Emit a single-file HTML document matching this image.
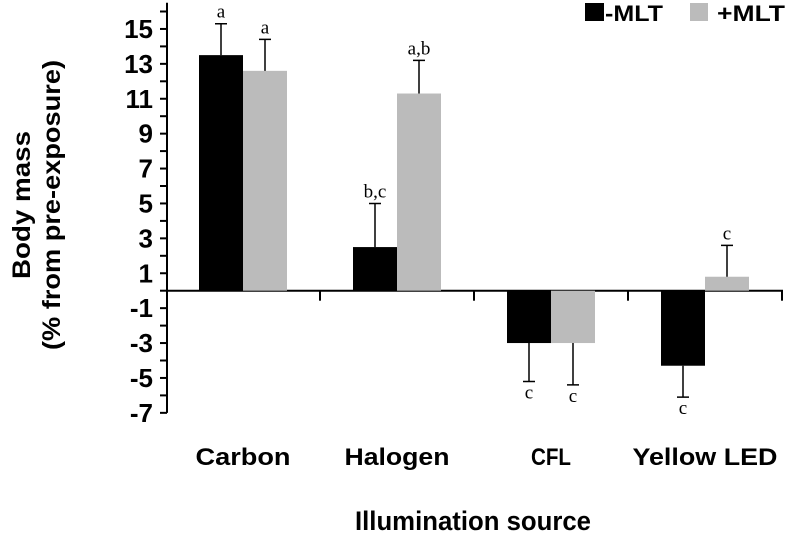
<!DOCTYPE html>
<html><head><meta charset="utf-8"><style>
html,body{margin:0;padding:0;background:#fff;}
svg text{font-family:"Liberation Sans",sans-serif;}
</style></head><body>
<svg id="chart" width="792" height="531" xmlns="http://www.w3.org/2000/svg">
<g id="axes"></g>
<g id="bars"></g>
<text transform="translate(30,205) rotate(-90)" text-anchor="middle" font-size="25" font-weight="bold" textLength="148" lengthAdjust="spacingAndGlyphs">Body mass</text>
<text transform="translate(60,205) rotate(-90)" text-anchor="middle" font-size="25" font-weight="bold" textLength="290" lengthAdjust="spacingAndGlyphs">(% from pre-exposure)</text>
<text x="473" y="530" text-anchor="middle" font-size="27" font-weight="bold" textLength="236" lengthAdjust="spacingAndGlyphs">Illumination source</text>
<g>
<rect x="585" y="3" width="19" height="18" fill="#000"/>
<text x="605" y="21" font-size="22" font-weight="bold" textLength="58" lengthAdjust="spacingAndGlyphs">-MLT</text>
<rect x="690" y="3" width="18" height="18" fill="#bbb"/>
<text x="717" y="21" font-size="22" font-weight="bold" textLength="68" lengthAdjust="spacingAndGlyphs">+MLT</text>
</g>
</svg>
<script>
const categories = ["Carbon","Halogen","CFL","Yellow LED"];
const minusMLT = [13.5, 2.5, -3.0, -4.3];
const plusMLT = [12.6, 11.3, -3.0, 0.8];
const minusErr = [1.8, 2.5, 2.2, 1.8];
const plusErr = [1.8, 1.9, 2.4, 1.8];
const minusLetters = ["a","b,c","c","c"];
const plusLetters = ["a","a,b","c","c"];
const yTicks = [15,13,11,9,7,5,3,1,-1,-3,-5,-7];

const NS="http://www.w3.org/2000/svg";
const x0=167, groupW=154, firstCenter=243, barW=44;
const yZero=290.7, unit=17.45;
const labelW = {"Carbon":95,"Halogen":105,"CFL":40,"Yellow LED":145};
const y = v => yZero - v*unit;
const xc = i => firstCenter + i*groupW;
function mk(tag, attrs, parent){const e=document.createElementNS(NS,tag);for(const k in attrs)e.setAttribute(k,attrs[k]);parent.appendChild(e);return e;}
const axes=document.getElementById('axes'), bars=document.getElementById('bars');
let l=mk('line',{x1:x0,y1:y(16.5),x2:x0,y2:y(-7),stroke:'#000','stroke-width':2},axes);


for(let v=-7; v<=16; v++){
  const t=mk('line',{x1:x0-7,y1:y(v),x2:x0,y2:y(v),stroke:'#000','stroke-width':2},axes);
  
  
}
yTicks.forEach(v=>{
  const t=mk('text',{x:x0-14,y:y(v)+9,'text-anchor':'end','font-size':26,'font-weight':'bold'},axes);
  t.textContent=v;
  
  
});
l=mk('line',{x1:x0,y1:yZero,x2:xc(categories.length-1)+groupW/2+1,y2:yZero,stroke:'#000','stroke-width':2},axes);


for(let i=0;i<categories.length;i++){
  const tx=xc(i)+groupW/2;
  const t=mk('line',{x1:tx,y1:yZero,x2:tx,y2:yZero+10,stroke:'#000','stroke-width':2},axes);
  
  
  const lb=mk('text',{x:xc(i),y:465,'text-anchor':'middle','font-size':24,'font-weight':'bold',textLength:labelW[categories[i]]||100,lengthAdjust:'spacingAndGlyphs'},axes);
  lb.textContent=categories[i];
  
  
}
function drawBar(i, val, err, letter, left, color, name){
  const bx = left ? xc(i)-barW : xc(i);
  const top=Math.min(y(val),yZero), h=Math.abs(y(val)-yZero);
  const r=mk('rect',{x:bx,y:top,width:barW,height:h,fill:color},bars);
  
  
  const cx=bx+barW/2;
  const ey = val>=0 ? val+err : val-err;
  const e=mk('path',{d:`M${cx},${y(val)}V${y(ey)}M${cx-6},${y(ey)}H${cx+6}`,stroke:'#000','stroke-width':1.5,fill:'none'},bars);
  
  
  const ty = val>=0 ? y(ey)-6 : y(ey)+17;
  const t=mk('text',{x:cx,y:ty,'text-anchor':'middle','font-size':19,style:'font-family:"Liberation Serif",serif'},bars);
  t.textContent=letter;
  
  
}
for(let i=0;i<categories.length;i++){
  drawBar(i,minusMLT[i],minusErr[i],minusLetters[i],true,'#000','bar-minus-mlt');
  drawBar(i,plusMLT[i],plusErr[i],plusLetters[i],false,'#bbb','bar-plus-mlt');
}
</script>
</body></html>
